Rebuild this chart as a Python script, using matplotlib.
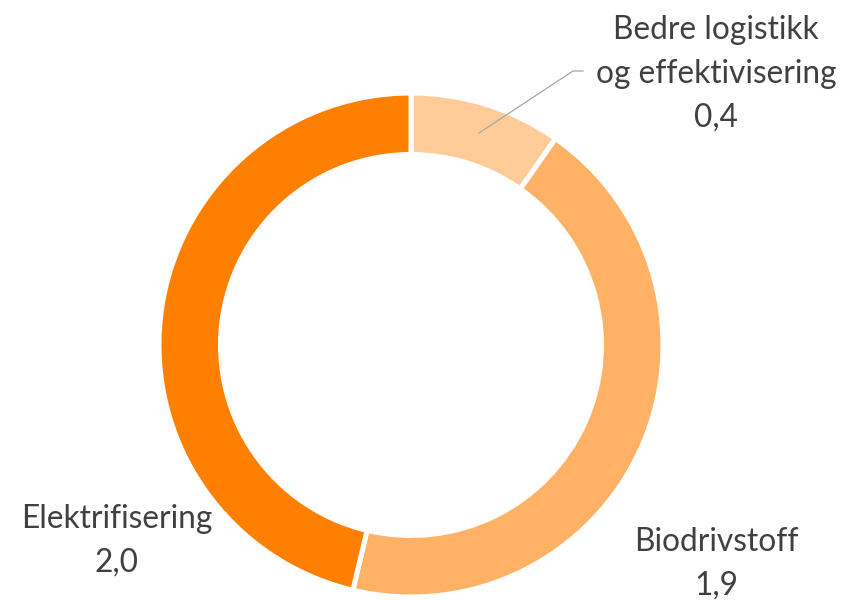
import matplotlib
matplotlib.use("Agg")
import matplotlib.pyplot as plt

# Data
categories = ["Bedre logistikk\nog effektivisering", "Biodrivstoff", "Elektrifisering"]
values = [0.42, 1.9, 2.0]
value_labels = ["0,4", "1,9", "2,0"]
colors = ["#FFCC99", "#FFB266", "#FF8000"]

W, H = 843, 600
fig = plt.figure(figsize=(W / 100, H / 100), dpi=100)
fig.patch.set_facecolor("white")

cx, cy, R = 411, 345, 250  # px
ax = fig.add_axes([(cx - R) / W, (H - cy - R) / H, 2 * R / W, 2 * R / H])
wedges, _ = ax.pie(values, colors=colors, startangle=90, counterclock=False,
                   radius=1.008, wedgeprops=dict(width=0.246, edgecolor="white",
                                                 linewidth=3.6))
for w in wedges:
    w.set_clip_on(False)
ax.set_xlim(-1, 1)
ax.set_ylim(-1, 1)
ax.set_aspect("equal")
ax.axis("off")

font = dict(family=["Lato", "DejaVu Sans"], fontsize=22.8, color="#404040")
step = 44 / R

def place(x, y_last, lines):
    n = len(lines)
    for i, line in enumerate(lines):
        ax.text(x, y_last + (n - 1 - i) * step, line, ha="center", va="baseline",
                clip_on=False, **font)

# label positions (data units, 1 = 250 px)
pos = [(1.22, (cy - 127) / R), (1.22, (cy - 595) / R), (-1.176, (cy - 572) / R)]
for cat, vl, (x, y) in zip(categories, value_labels, pos):
    place(x, y, cat.split("\n") + [vl])

# leader line for the small slice
ax.plot([0.272, 0.648, 0.688], [0.848, 1.096, 1.096], color="#A6A6A6",
        lw=0.9, clip_on=False)

fig.savefig("out.png", dpi=100, facecolor="white")
